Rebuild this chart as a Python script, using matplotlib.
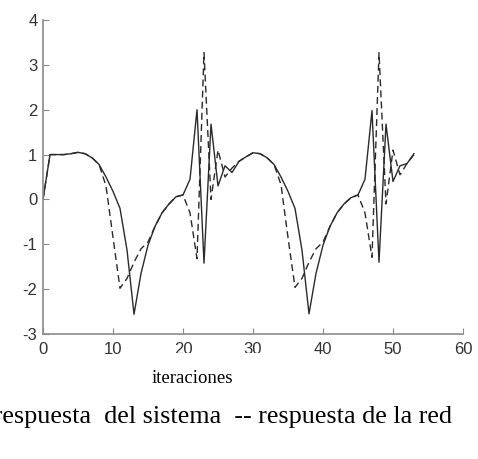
import matplotlib
matplotlib.use("Agg")
import matplotlib.pyplot as plt
from matplotlib.patches import Rectangle

plt.rcParams["axes.unicode_minus"] = False

# iteration index
iteraciones = list(range(54))

# respuesta del sistema (solid)
sistema = [0.0, 1.0, 1.0, 1.0, 1.02, 1.05, 1.02, 0.93, 0.78, 0.5,
           0.18, -0.2, -1.13, -2.56, -1.65, -1.02, -0.6, -0.3, -0.1, 0.06,
           0.1, 0.45, 2.0, -1.42, 1.68, 0.3, 0.75, 0.6, 0.85, 0.95,
           1.04, 1.02, 0.93, 0.78, 0.5, 0.18, -0.2, -1.13, -2.55, -1.65,
           -1.02, -0.6, -0.3, -0.1, 0.04, 0.1, 0.45, 1.98, -1.4, 1.68,
           0.4, 0.75, 0.8, 1.02]

# respuesta de la red (dashed)
red = [0.0, 1.0, 1.0, 1.0, 1.02, 1.05, 1.02, 0.93, 0.78, 0.3,
       -0.85, -1.98, -1.76, -1.4, -1.1, -0.95, -0.6, -0.3, -0.1, 0.06,
       0.1, -0.3, -1.32, 3.27, 0.0, 1.1, 0.5, 0.7, 0.85, 0.95,
       1.04, 1.02, 0.93, 0.78, 0.33, -0.85, -1.96, -1.76, -1.4, -1.1,
       -0.95, -0.6, -0.3, -0.1, 0.04, 0.1, -0.3, -1.29, 3.27, -0.1,
       1.1, 0.55, 0.8, 1.0]

xticks = [0, 10, 20, 30, 40, 50, 60]
yticks = [-3, -2, -1, 0, 1, 2, 3, 4]

fig = plt.figure(figsize=(4.78, 4.59), dpi=100)
ax = fig.add_axes([0.09, 0.2723, 0.8786, 0.6841])

ax.plot(iteraciones, sistema, color="#2a2a2a", lw=1.0)
ax.plot(iteraciones, red, color="#2a2a2a", lw=1.0, linestyle=(0, (5, 3)))

ax.set_xlim(0, 60)
ax.set_ylim(-3, 4)
ax.set_xticks(xticks)
ax.set_yticks(yticks)
for s in ("top", "right"):
    ax.spines[s].set_visible(False)
for s in ("left", "bottom"):
    ax.spines[s].set_color("#8a8a8a")
    ax.spines[s].set_linewidth(1.2)
ax.tick_params(direction="in", length=4, color="#8a8a8a", labelsize=12,
               labelcolor="#333333")
ax.tick_params(axis="x", pad=6)
ax.tick_params(axis="y", pad=4)
for lab in ax.get_xticklabels() + ax.get_yticklabels():
    lab.set_family("Liberation Sans")

# white box of the label area that hides the lower half of two tick labels
fig.patches.append(Rectangle((150 / 478, 64 / 459), 118 / 478, 42 / 459,
                             transform=fig.transFigure, facecolor="white",
                             edgecolor="none", zorder=5))
fig.text(192 / 478, 76 / 459, "iteraciones", ha="center", va="baseline",
         family="Liberation Serif", fontsize=13.5, zorder=6)

# caption runs off the left edge, as in the scanned original
fig.text(452 / 478, 36 / 459, "\u2014 respuesta  del sistema  -- respuesta de la red",
         ha="right", va="baseline", family="Liberation Serif", fontsize=18.8)

fig.savefig("out.png", dpi=100)
